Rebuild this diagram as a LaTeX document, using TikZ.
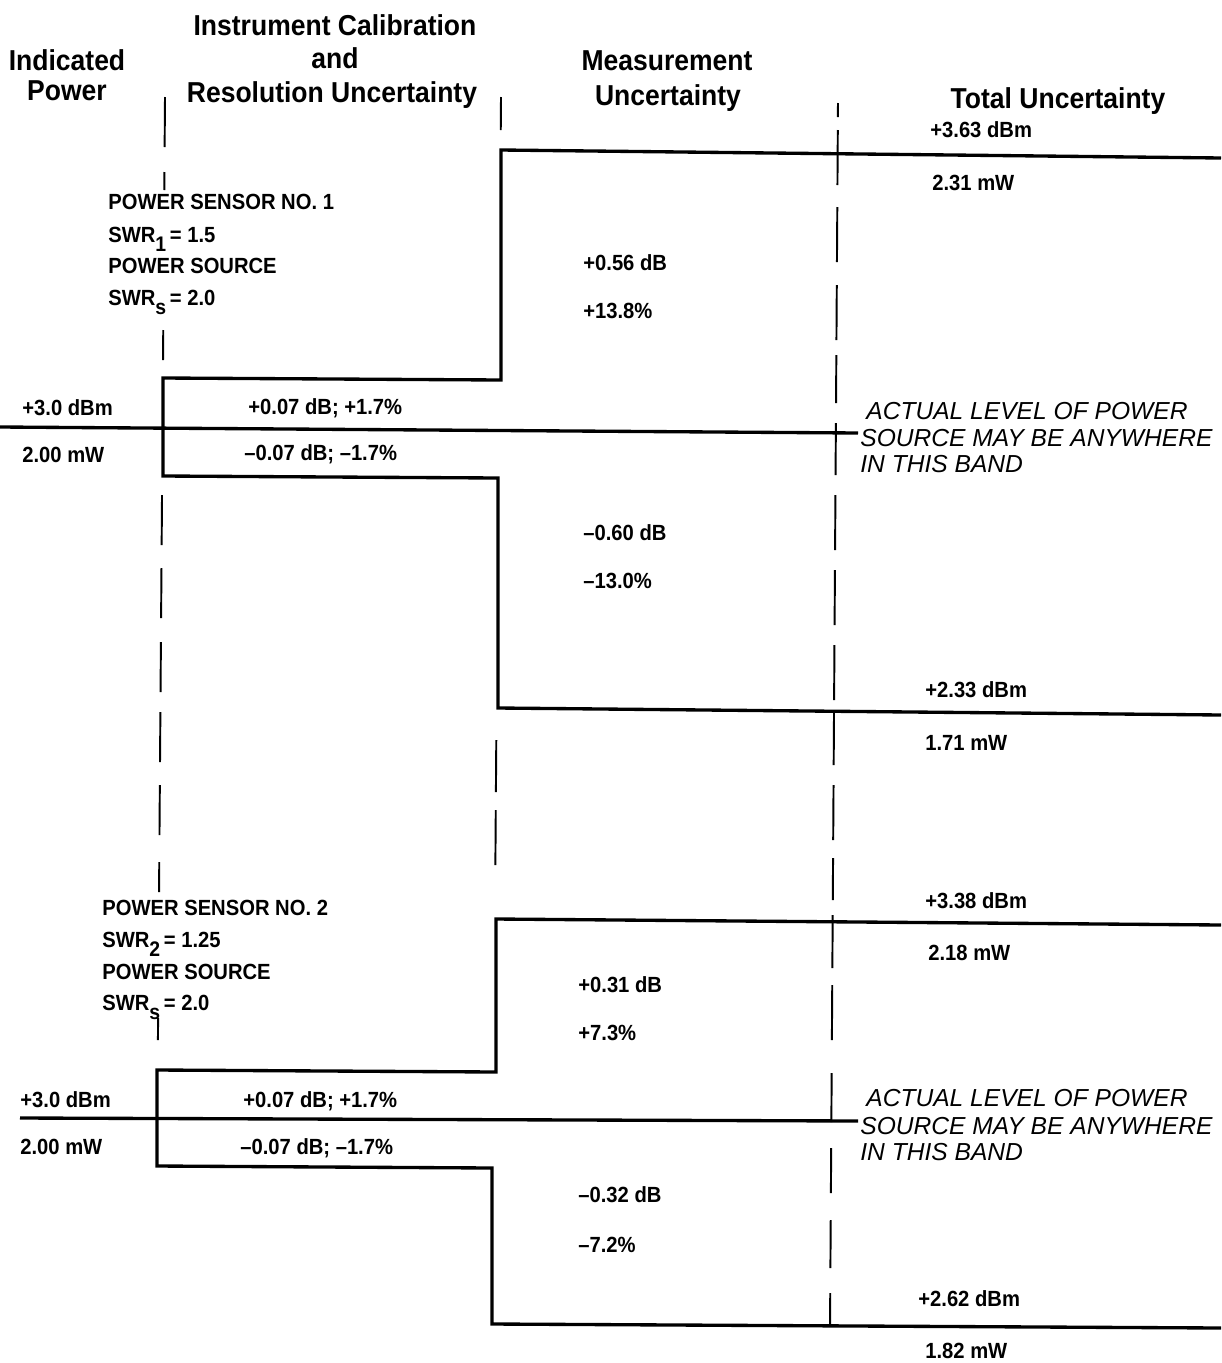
\documentclass[tikz,border=0pt]{standalone}
\usepackage{fontspec}
\setmainfont{Liberation Sans}
\newfontfamily\condf[FakeStretch=0.92]{Liberation Sans}
\begin{document}
\begin{tikzpicture}[x=0.02cm,y=-0.02cm,
  stepline/.style={line width=1.9pt, line join=miter},
  dashline/.style={line width=1.1pt},
  hdr/.style={inner sep=0pt, text height=11.7pt, text depth=0pt, font=\condf\bfseries\fontsize{16.4}{18}\selectfont},
  lbl/.style={anchor=west, inner sep=0pt, text height=9pt, text depth=0pt, font=\condf\bfseries\fontsize{12.5}{14}\selectfont},
  note/.style={anchor=west, inner sep=0pt, text height=10pt, text depth=0pt, font=\itshape\fontsize{14}{16}\selectfont}]
\useasboundingbox (0,0) rectangle (1221,1363);

% ---------- headers ----------
\node[hdr] (h1a) at (67,60) {Indicated};
\node[hdr] (h1b) at (67,90) {Power};
\node[hdr] (h2a) at (335,25) {Instrument Calibration};
\node[hdr] (h2b) at (335,58) {and};
\node[hdr] (h2c) at (332,92) {Resolution Uncertainty};
\node[hdr] (h3a) at (667,60) {Measurement};
\node[hdr] (h3b) at (668,95) {Uncertainty};
\node[hdr] (h4) at (1058,98) {Total Uncertainty};

% ---------- dashed column separators ----------
% left column line
\foreach \a/\b in {97/147,172/190,330/360,495/545,568/618,642/692,712/762,785/835,862/892,1018/1040}
  \draw[dashline] ({165-8*(\a-97)/1068},\a) -- ({165-8*(\b-97)/1068},\b);
% middle column line
\foreach \a/\b in {97/130,740/792,810/865}
  \draw[dashline] ({501-9*(\a-97)/1228},\a) -- ({501-9*(\b-97)/1228},\b);
% right column line
\foreach \a/\b in {103/117,130/185,207/262,285/340,355/403,423/475,495/550,570/625,645/700,710/765,785/840,858/900,915/968,985/1040,1073/1122,1148/1193,1220/1268,1293/1325}
  \draw[dashline] ({838-8*(\a-100)/1230},\a) -- ({838-8*(\b-100)/1230},\b);

% ---------- panel 1 ----------
\coordinate (p1a) at (1221,158);
\coordinate (p1b) at (501,150);
\coordinate (p1c) at (501,380);
\coordinate (p1d) at (163,378);
\coordinate (p1e) at (163,476);
\coordinate (p1f) at (498,478);
\coordinate (p1g) at (498,708);
\coordinate (p1h) at (1221,715);
\draw[stepline] (p1a) -- (p1b) -- (p1c) -- (p1d) -- (p1e) -- (p1f) -- (p1g) -- (p1h);
\coordinate (c1a) at (0,427);
\coordinate (c1b) at (858,433);
\draw[stepline] (c1a) -- (c1b);

\node[lbl] (t363) at (930,130) {+3.63 dBm};
\node[lbl] (t231) at (932,183) {2.31 mW};
\node[lbl] (s1a) at (108,202) {POWER SENSOR NO. 1};
\node[lbl] (s1b) at (108,235) {SWR\raisebox{-0.7ex}{\fontsize{12}{12}\selectfont 1}\,= 1.5};
\node[lbl] (s1c) at (108,266) {POWER SOURCE};
\node[lbl] (s1d) at (108,298) {SWR\raisebox{-0.7ex}{\fontsize{12}{12}\selectfont s}\,= 2.0};
\node[lbl] (m1a) at (583,263) {+0.56 dB};
\node[lbl] (m1b) at (583,311) {+13.8\%};
\node[lbl] (i1a) at (22,408) {+3.0 dBm};
\node[lbl] (i1b) at (22,455) {2.00 mW};
\node[lbl] (r1a) at (248,407) {+0.07 dB; +1.7\%};
\node[lbl] (r1b) at (244,453) {–0.07 dB; –1.7\%};
\node[note] (n1a) at (866,411) {ACTUAL LEVEL OF POWER};
\node[note] (n1b) at (860,438) {SOURCE MAY BE ANYWHERE};
\node[note] (n1c) at (860,464) {IN THIS BAND};
\node[lbl] (m1c) at (583,533) {–0.60 dB};
\node[lbl] (m1d) at (583,581) {–13.0\%};
\node[lbl] (t233) at (925,690) {+2.33 dBm};
\node[lbl] (t171) at (925,743) {1.71 mW};

% ---------- panel 2 ----------
\coordinate (p2a) at (1221,925);
\coordinate (p2b) at (496,919);
\coordinate (p2c) at (496,1072);
\coordinate (p2d) at (157,1070);
\coordinate (p2e) at (157,1166);
\coordinate (p2f) at (492,1168);
\coordinate (p2g) at (492,1324);
\coordinate (p2h) at (1221,1328);
\draw[stepline] (p2a) -- (p2b) -- (p2c) -- (p2d) -- (p2e) -- (p2f) -- (p2g) -- (p2h);
\coordinate (c2a) at (20,1118);
\coordinate (c2b) at (858,1121);
\draw[stepline] (c2a) -- (c2b);

\node[lbl] (t338) at (925,901) {+3.38 dBm};
\node[lbl] (t218) at (928,953) {2.18 mW};
\node[lbl] (s2a) at (102,908) {POWER SENSOR NO. 2};
\node[lbl] (s2b) at (102,940) {SWR\raisebox{-0.7ex}{\fontsize{12}{12}\selectfont 2}\,= 1.25};
\node[lbl] (s2c) at (102,972) {POWER SOURCE};
\node[lbl] (s2d) at (102,1003) {SWR\raisebox{-0.7ex}{\fontsize{12}{12}\selectfont s}\,= 2.0};
\node[lbl] (m2a) at (578,985) {+0.31 dB};
\node[lbl] (m2b) at (578,1033) {+7.3\%};
\node[lbl] (i2a) at (20,1100) {+3.0 dBm};
\node[lbl] (i2b) at (20,1147) {2.00 mW};
\node[lbl] (r2a) at (243,1100) {+0.07 dB; +1.7\%};
\node[lbl] (r2b) at (240,1147) {–0.07 dB; –1.7\%};
\node[note] (n2a) at (866,1098) {ACTUAL LEVEL OF POWER};
\node[note] (n2b) at (860,1126) {SOURCE MAY BE ANYWHERE};
\node[note] (n2c) at (860,1152) {IN THIS BAND};
\node[lbl] (m2c) at (578,1195) {–0.32 dB};
\node[lbl] (m2d) at (578,1245) {–7.2\%};
\node[lbl] (t262) at (918,1299) {+2.62 dBm};
\node[lbl] (t182) at (925,1351) {1.82 mW};
\end{tikzpicture}
\end{document}
